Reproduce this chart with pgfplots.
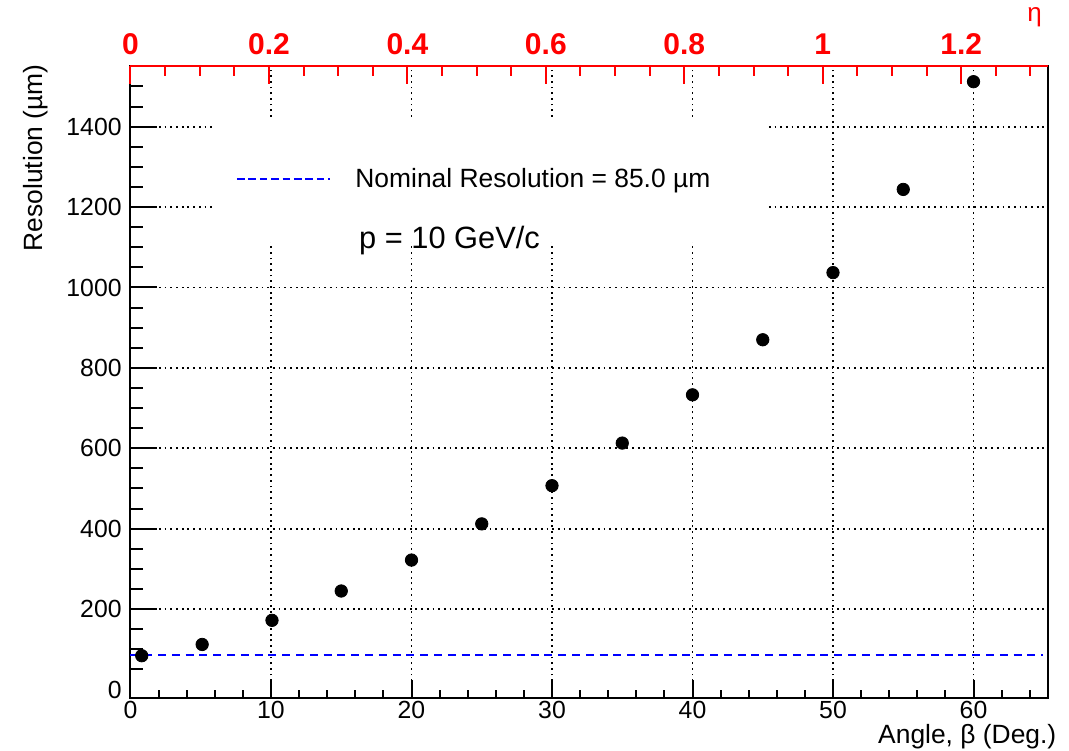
\documentclass[border=0pt]{standalone}
\usepackage{fontspec}
\setmainfont{Liberation Sans}
\usepackage{pgfplots}
\pgfplotsset{compat=1.18}
\begin{document}
\begin{tikzpicture}
\pgfplotsset{
  base/.style={
    scale only axis, width=458.95pt, height=316.15pt,
    xmin=0, xmax=65.33, ymin=-21.9, ymax=1551,
    /pgf/number format/assume math mode=true,
    /pgf/number format/1000 sep={},
    tick label style={font=\fontsize{12.4}{14}\selectfont, inner sep=0pt},
    tick align=inside,
  },
}
% Axis A: frame, x ticks, grid, data
\begin{axis}[base, name=main, clip=false,
  axis line style={line width=1pt, black},
  xtick={0,10,...,60}, minor xtick={2,4,...,64},
  xtick pos=bottom, ytick pos=left,
  major tick length=9pt, minor tick length=4.3pt,
  tick style={black, line width=1pt},
  xticklabel style={anchor=base, yshift=-10pt},
  ytick={200,400,...,1400}, yticklabels={}, ytick style={draw=none},
  grid=major,
  major grid style={black, line width=0.9pt, dash pattern=on 0.9pt off 1.95pt},
]
\fill[white] (axis cs:6.01,1114) rectangle (axis cs:45.23,1416.7);
\addplot[blue, line width=1pt, dash pattern=on 4pt off 2.9pt] coordinates {(0,85) (64.95,85)};
\addplot[only marks, mark=*, mark size=3.1pt, black] coordinates {
  (0.8,84) (5.1,112) (10.07,172) (15,245) (20,322) (25,412) (30,507)
  (35,613) (40,733) (45,870) (50,1037) (55,1244) (60,1512)
};
\draw[blue, line width=1pt, dash pattern=on 3.8pt off 1.9pt] (axis cs:7.58,1269) -- (axis cs:14.2,1269);
\node[anchor=base west, inner sep=0pt, font=\fontsize{13.2}{15}\selectfont] at (axis cs:15.98,1249) {Nominal Resolution = 85.0 µm};
\node[anchor=base west, inner sep=0pt, font=\fontsize{15.4}{17}\selectfont] at (axis cs:16.25,1095.8) {p = 10 GeV/c};
\node[anchor=base east, inner sep=0pt, font=\fontsize{13.2}{15}\selectfont] at (axis cs:65.92,-135) {Angle, β (Deg.)};
\node[rotate=90, anchor=base east, inner sep=0pt, font=\fontsize{13.2}{15}\selectfont] at (axis cs:-6.25,1556) {Resolution (µm)};
\node[anchor=base east, inner sep=0pt, text=red, font=\fontsize{13}{14}\selectfont] at (axis cs:64.9,1661) {η};
\end{axis}
% Axis B: y ticks and labels
\begin{axis}[base, hide x axis, axis y line*=left, y axis line style={draw=none},
  ytick={200,400,...,1400}, minor ytick={50,100,...,1500},
  extra y ticks={0}, extra y tick style={major tick length=0pt},
  major tick length=13.25pt, minor tick length=6.3pt,
  tick style={black, line width=1pt},
  yticklabel style={anchor=east, xshift=-4.25pt},
]
\end{axis}
% Axis C: eta axis on top
\begin{axis}[base, xmin=0, xmax=1.326, hide y axis, axis x line*=top,
  x axis line style={red, line width=1pt, -},
  xtick={0,0.2,0.4,0.6,0.8,1.0,1.2}, xticklabels={0,0.2,0.4,0.6,0.8,1,1.2},
  minor xtick={0.05,0.1,...,1.3},
  major tick length=9pt, minor tick length=4.8pt,
  tick style={red, line width=1pt},
  xticklabel style={text=red, font=\bfseries\fontsize{15}{17}\selectfont, anchor=base, yshift=5.8pt},
]
\end{axis}
\pgfresetboundingbox
\path[use as bounding box] ([shift={(-65.25pt,-26.35pt)}]main.south west) rectangle ([shift={(10.3pt,33pt)}]main.north east);
\end{tikzpicture}
\end{document}
